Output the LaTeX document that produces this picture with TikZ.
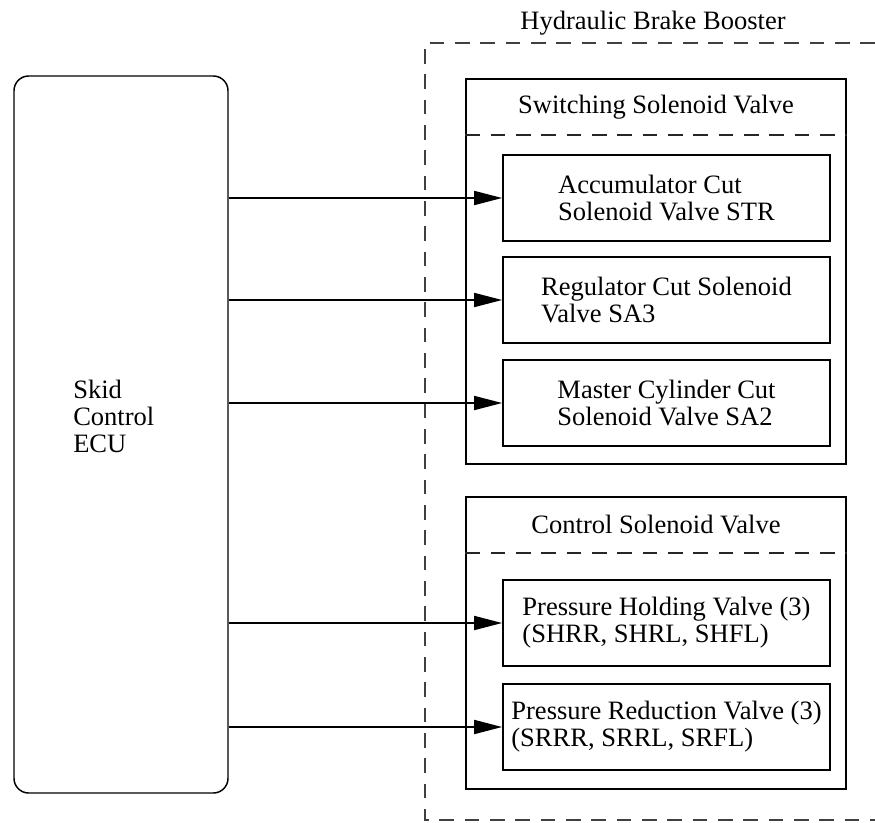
\documentclass[tikz,border=0pt]{standalone}
\usepackage{fontspec}
\setmainfont{Liberation Serif}
\usepackage{xcolor}
\usetikzlibrary{arrows.meta,positioning}

\tikzset{
  valvebox/.style={rectangle, draw, line width=1.3pt, minimum width=245.25pt, minimum height=64.5pt, align=left, inner sep=0pt},
  groupbox/.style={rectangle, draw, line width=1pt, minimum width=285pt, inner sep=0pt},
  ecubox/.style={rectangle, draw, line width=1.1pt, rounded corners=11pt, minimum width=160.5pt, minimum height=537.75pt, inner sep=0pt},
  sigarrow/.style={-{Triangle[length=21pt,width=10.5pt]}, line width=1.3pt},
  divider/.style={line width=1pt, black!85, dash pattern=on 11pt off 8pt},
  boosterline/.style={line width=1pt, black!75, dash pattern=on 11pt off 8pt}
}

\begin{document}
\begin{tikzpicture}[x=0.75pt,y=-0.75pt, font=\fontsize{19.9}{20.3}\selectfont]
  \useasboundingbox (0,0) rectangle (875,822);

  % hydraulic brake booster
  \node (boosterlbl) at (653,23) {Hydraulic Brake Booster};
  \draw[boosterline] (875,43) -- (425,43) -- (425,820) -- (875,820);

  % skid control ECU
  \node[ecubox] (ecu) at (121,434.5) {};
  \node[anchor=west, align=left, inner sep=0pt] (ecutext) at (73,416) {Skid\\Control\\ECU};

  % switching solenoid valve group
  \node[groupbox, minimum height=288.75pt] (switching) at (656,271.5) {};
  \node (switchinglbl) at (656,107) {Switching Solenoid Valve};
  \draw[divider] (switching.west |- 0,135) -- (switching.east |- 0,135);
  \node[valvebox] (acc) at (666.5,198) {Accumulator Cut\\Solenoid Valve STR};
  \node[valvebox] (reg) at (666.5,300) {Regulator Cut Solenoid\\Valve SA3};
  \node[valvebox] (master) at (666.5,403) {Master Cylinder Cut\\Solenoid Valve SA2};

  % control solenoid valve group
  \node[groupbox, minimum height=219pt] (control) at (656,643) {};
  \node (controllbl) at (656,524) {Control Solenoid Valve};
  \draw[divider] (control.west |- 0,553) -- (control.east |- 0,553);
  \node[valvebox] (holding) at (666.5,623) {Pressure Holding Valve (3)\\(SHRR, SHRL, SHFL)};
  \node[valvebox] (reduction) at (666.5,727) {Pressure Reduction Valve (3)\\(SRRR, SRRL, SRFL)};

  % signals
  \foreach \target in {acc,reg,master,holding,reduction}
    \draw[sigarrow] (ecu.east |- \target.west) -- (\target.west);
\end{tikzpicture}
\end{document}
